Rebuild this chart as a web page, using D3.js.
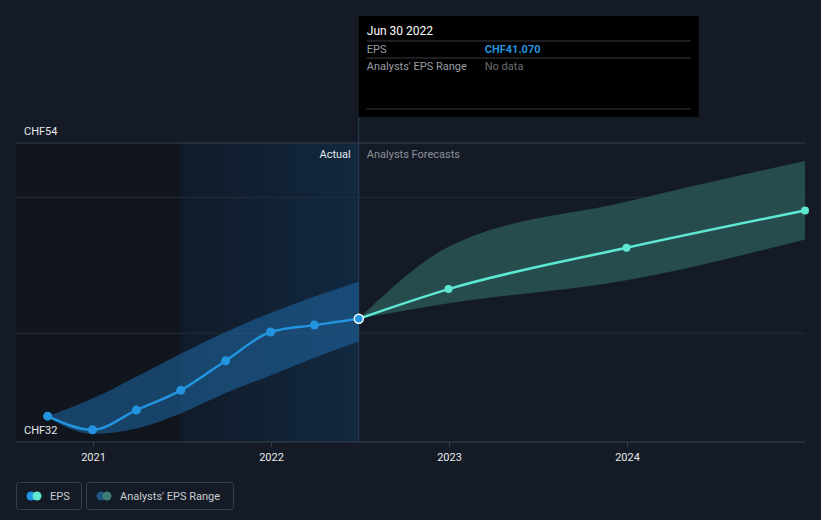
<!DOCTYPE html>
<html><head><meta charset="utf-8">
<script src="https://cdn.jsdelivr.net/npm/d3@7"></script>
<style>
html,body{margin:0;padding:0;background:#151b26;}
svg{display:block;font-family:Roboto,"Noto Sans",sans-serif;}
</style></head><body>
<svg id="c" width="821" height="520"></svg>
<script>
// ---- data ----
const actualDates = ["2020-09-30","2020-12-31","2021-03-31","2021-06-30","2021-09-30","2021-12-31","2022-03-31","2022-06-30"];
const actualEps   = [33.9, 32.9, 34.35, 35.8, 37.98, 40.09, 40.6, 41.07];
const actualLow   = [33.8, 32.6, 33.0, 34.1, 35.6, 36.9, 38.2, 39.4];
const actualHigh  = [33.9, 35.2, 36.8, 38.5, 40.1, 41.5, 42.7, 43.8];
const fcDates = ["2022-06-30","2022-12-31","2023-12-31","2024-12-31"];
const fcEps   = [41.07, 43.25, 46.29, 49.04];
const fcLow   = [41.07, 42.2, 43.9, 46.9];
const fcHigh  = [41.07, 46.36, 49.67, 52.68];
const yearTicks = ["2021","2022","2023","2024"];
const yGrid = [40, 50, 54];
const yLabels = [{v:54,t:"CHF54"},{v:32,t:"CHF32"}];

const parse = d3.timeParse("%Y-%m-%d");
const svg = d3.select("#c");
const L = 16, R = 805, T = 143, B = 442;

const x = d3.scaleTime().domain([parse("2021-01-01"), parse("2024-01-01")]).range([93, 627]);
const y = d3.scaleLinear().domain([32, 54]).range([B, T]);

const defs = svg.append("defs");
const g1 = defs.append("linearGradient").attr("id","pastGrad").attr("x1","0").attr("x2","1").attr("y1","0").attr("y2","0");
g1.append("stop").attr("offset","0").attr("stop-color","#111b29");
g1.append("stop").attr("offset","1").attr("stop-color","#112840");

const xCut = x(parse("2021-06-30")), xNow = x(parse("2022-06-30"));
// background regions
svg.append("rect").attr("x",L).attr("y",T).attr("width",xCut-L).attr("height",B-T).attr("fill","#11151e");
svg.append("rect").attr("x",xCut).attr("y",T).attr("width",xNow-xCut).attr("height",B-T).attr("fill","url(#pastGrad)");

// gridlines
svg.selectAll("line.grid").data(yGrid).join("line")
  .attr("x1",L).attr("x2",R).attr("y1",d=>y(d)).attr("y2",d=>y(d))
  .attr("stroke", d=> d===54 ? "#3a404b" : "#262d39").attr("stroke-width",1);

// vertical now line
svg.append("line").attr("x1",xNow).attr("x2",xNow).attr("y1",117).attr("y2",B)
  .attr("stroke","#2a3f57").attr("stroke-width",1);

// bands
const actual = actualDates.map((d,i)=>({d:parse(d),v:actualEps[i],lo:actualLow[i],hi:actualHigh[i]}));
const fc = fcDates.map((d,i)=>({d:parse(d),v:fcEps[i],lo:fcLow[i],hi:fcHigh[i]}));
const area = d3.area().x(d=>x(d.d)).y0(d=>y(d.lo)).y1(d=>y(d.hi)).curve(d3.curveMonotoneX);
svg.append("path").datum(actual).attr("d",area).attr("fill","#1f6aa6").attr("fill-opacity",0.55);
svg.append("path").datum(fc).attr("d",area).attr("fill","#2e615f").attr("fill-opacity",0.7);

// axis line
svg.append("line").attr("x1",L).attr("x2",R).attr("y1",B).attr("y2",B).attr("stroke","#3a404b");

// lines
const line = d3.line().x(d=>x(d.d)).y(d=>y(d.v)).curve(d3.curveMonotoneX);
svg.append("path").datum(fc).attr("d",line).attr("fill","none").attr("stroke","#5ee8d1").attr("stroke-width",2.5);
svg.append("path").datum(actual).attr("d",line).attr("fill","none").attr("stroke","#2394df").attr("stroke-width",2.5);
svg.selectAll("circle.fc").data(fc.slice(1)).join("circle")
  .attr("cx",d=>x(d.d)).attr("cy",d=>y(d.v)).attr("r",4).attr("fill","#5ee8d1");
svg.selectAll("circle.ac").data(actual.slice(0,-1)).join("circle")
  .attr("cx",d=>x(d.d)).attr("cy",d=>y(d.v)).attr("r",4.5).attr("fill","#2394df");
const last = actual[actual.length-1];
svg.append("circle").attr("cx",x(last.d)).attr("cy",y(last.v)).attr("r",4.5)
  .attr("fill","#2394df").attr("stroke","#ffffff").attr("stroke-width",1.5);

// x axis
const xa = svg.append("g").attr("transform",`translate(0,${B})`)
  .call(d3.axisBottom(x).tickValues(yearTicks.map(t=>parse(t+"-01-01"))).tickFormat(d3.timeFormat("%Y")).tickSize(5).tickPadding(6));
xa.select(".domain").remove();
xa.selectAll("line").attr("stroke","#3a404b");
xa.selectAll("text").attr("fill","#e6e8eb").attr("font-size",11).attr("font-family","Roboto, sans-serif");

// y labels
svg.selectAll("text.yl").data(yLabels).join("text")
  .attr("x",24).attr("y",d=>y(d.v) - 8).attr("fill","#e6e8eb").attr("font-size",11).text(d=>d.t);

// section labels
svg.append("text").attr("x",xNow-8).attr("y",158).attr("text-anchor","end").attr("fill","#e6e8eb").attr("font-size",11).text("Actual");
svg.append("text").attr("x",xNow+8).attr("y",158).attr("fill","#8b9099").attr("font-size",11).text("Analysts Forecasts");

// tooltip
const tt = svg.append("g");
tt.append("rect").attr("x",xNow).attr("y",16).attr("width",340).attr("height",101).attr("fill","#000000");
tt.append("text").attr("x",xNow+8).attr("y",35).attr("fill","#ffffff").attr("font-size",12).text("Jun 30 2022");
[41,58,109].forEach(yy=>tt.append("line").attr("x1",xNow+8).attr("x2",xNow+332).attr("y1",yy).attr("y2",yy).attr("stroke","#3a3d42"));
tt.append("text").attr("x",xNow+8).attr("y",53).attr("fill","#9a9da3").attr("font-size",11).text("EPS");
tt.append("text").attr("x",xNow+126).attr("y",53).attr("fill","#2394df").attr("font-size",11).attr("font-weight","bold").text("CHF" + d3.format(".3f")(last.v));
tt.append("text").attr("x",xNow+8).attr("y",70).attr("fill","#9a9da3").attr("font-size",11).text("Analysts' EPS Range");
tt.append("text").attr("x",xNow+126).attr("y",70).attr("fill","#6b6e73").attr("font-size",11).text("No data");

// legend
const leg = [{t:"EPS",x:16,w:65,c1:"#2394df",c2:"#5ee8d1"},{t:"Analysts' EPS Range",x:86,w:147,c1:"#1d5580",c2:"#3f7d77"}];
leg.forEach(l=>{
  svg.append("rect").attr("x",l.x+0.5).attr("y",482.5).attr("width",l.w).attr("height",27).attr("rx",3)
    .attr("fill","none").attr("stroke","#3a404b");
  svg.append("circle").attr("cx",l.x+15).attr("cy",496).attr("r",4.5).attr("fill",l.c1);
  svg.append("circle").attr("cx",l.x+21).attr("cy",496).attr("r",4.5).attr("fill",l.c2);
  svg.append("text").attr("x",l.x+34).attr("y",500).attr("fill","#c9ccd1").attr("font-size",11).text(l.t);
});
</script>
</body></html>
